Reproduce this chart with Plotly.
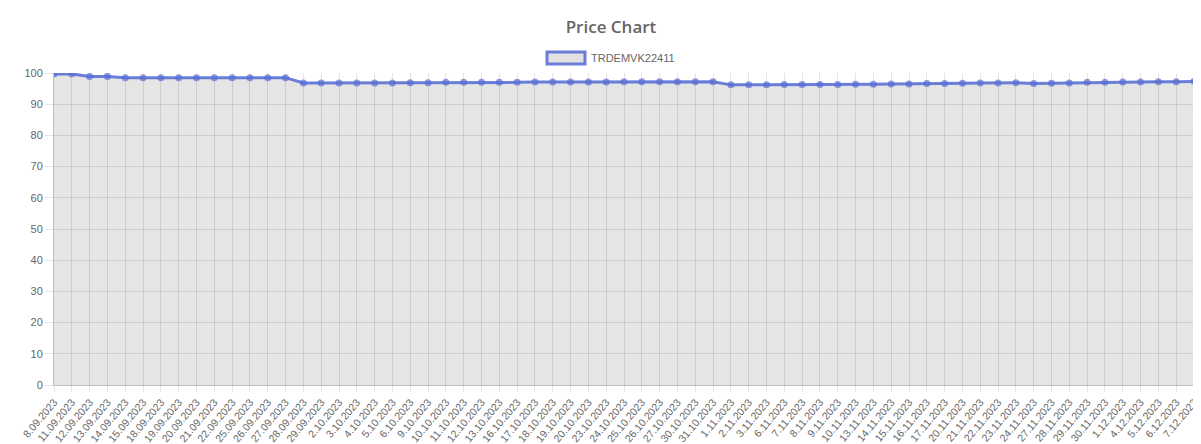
import plotly.graph_objects as go

W, H = 1201, 444
OFF = 8  # page body margin shifts the figure by 8px right/down

# trading days shown on the x axis
dates = [
    "8.09.2023", "11.09.2023", "12.09.2023", "13.09.2023", "14.09.2023", "15.09.2023",
    "18.09.2023", "19.09.2023", "20.09.2023", "21.09.2023", "22.09.2023", "25.09.2023",
    "26.09.2023", "27.09.2023", "28.09.2023", "29.09.2023",
    "2.10.2023", "3.10.2023", "4.10.2023", "5.10.2023", "6.10.2023", "9.10.2023",
    "10.10.2023", "11.10.2023", "12.10.2023", "13.10.2023", "16.10.2023", "17.10.2023",
    "18.10.2023", "19.10.2023", "20.10.2023", "23.10.2023", "24.10.2023", "25.10.2023",
    "26.10.2023", "27.10.2023", "30.10.2023", "31.10.2023",
    "1.11.2023", "2.11.2023", "3.11.2023", "6.11.2023", "7.11.2023", "8.11.2023",
    "9.11.2023", "10.11.2023", "13.11.2023", "14.11.2023", "15.11.2023", "16.11.2023",
    "17.11.2023", "20.11.2023", "21.11.2023", "22.11.2023", "23.11.2023", "24.11.2023",
    "27.11.2023", "28.11.2023", "29.11.2023", "30.11.2023",
    "1.12.2023", "4.12.2023", "5.12.2023", "6.12.2023", "7.12.2023",
]

# prices
prices = [
    99.7, 99.7, 98.9, 98.9, 98.5, 98.5, 98.5, 98.5, 98.5, 98.5, 98.5, 98.5, 98.5, 98.5,
    96.8, 96.8,
    96.8, 96.8, 96.8, 96.8, 96.9, 96.9, 97.0, 97.0, 97.0, 97.0, 97.0, 97.1,
    97.1, 97.1, 97.1, 97.1, 97.2, 97.2, 97.2, 97.2, 97.2, 97.2,
    96.2, 96.2, 96.2, 96.3, 96.3, 96.3, 96.3, 96.4, 96.4, 96.5, 96.5, 96.6,
    96.6, 96.7, 96.8, 96.8, 96.9, 96.6, 96.7, 96.8, 97.0, 97.0,
    97.1, 97.1, 97.2, 97.2, 97.3,
]

series_name = "TRDEMVK22411"
y_ticks = list(range(0, 101, 10))

LINE = "rgba(82,104,212,0.85)"
GREY = "#666666"
GRID = "rgba(0,0,0,0.1)"
FONT = "Liberation Sans, Arial, sans-serif"

# plot box in screenshot pixels: x 54..1194, y 73..385
ML = 54 - OFF
MR = W - (1194 - OFF)
MT = 73 - OFF
MB = H - (385 - OFF)

fig = go.Figure()
fig.add_trace(go.Scatter(
    x=dates,
    y=prices,
    name=series_name,
    mode="lines+markers",
    line=dict(color=LINE, width=3),
    marker=dict(size=7, color="rgba(90,110,210,0.7)", line=dict(width=0)),
    fill="tozeroy",
    fillcolor="rgba(0,0,0,0.1)",
    showlegend=False,
    hovertemplate="%{x}<br>%{y}<extra></extra>",
))

pw = W - ML - MR
ph = H - MT - MB


def px_x(p):
    return (p - OFF - ML) / pw


def px_y(p):
    return (H - MB - (p - OFF)) / ph


# chart.js style legend box (the real chart is wider than the crop,
# so title and legend sit right of the picture's middle)
shapes = [
    dict(type="rect", xref="paper", yref="paper",
         x0=px_x(547), x1=px_x(585), y0=px_y(64), y1=px_y(52),
         line=dict(color="rgba(82,104,212,0.85)", width=3),
         fillcolor="#e2e2e2"),
]

fig.update_layout(
    width=W,
    height=H,
    margin=dict(l=ML, r=MR, t=MT, b=MB, autoexpand=False),
    paper_bgcolor="white",
    plot_bgcolor="white",
    font=dict(family=FONT, size=11, color=GREY),
    title=dict(
        text="Price Chart",
        x=(611 - OFF) / W, xref="container", xanchor="center",
        y=1 - (27 - OFF) / H, yref="container", yanchor="middle",
        font=dict(family="Open Sans, sans-serif", size=17, color=GREY, weight=600),
        automargin=False,
    ),
    shapes=shapes,
    annotations=[dict(
        xref="paper", yref="paper", x=px_x(589), y=px_y(58),
        xanchor="left", yanchor="middle", showarrow=False,
        text=series_name, font=dict(family=FONT, size=11, color=GREY),
    )],
    hovermode="closest",
)

fig.update_xaxes(
    type="category",
    range=[0, len(dates) - 1],
    tickmode="array",
    tickvals=dates,
    ticktext=dates,
    tickangle=-50,
    tickfont=dict(size=10.5, color=GREY),
    showgrid=True,
    gridcolor=GRID,
    gridwidth=1,
    ticks="outside",
    ticklen=6,
    tickcolor=GRID,
    showline=True,
    linecolor="rgba(0,0,0,0.25)",
    linewidth=1,
    zeroline=False,
    automargin=False,
    fixedrange=True,
)

fig.update_yaxes(
    range=[0, 100],
    tickvals=y_ticks,
    tickfont=dict(size=11, color=GREY),
    showgrid=True,
    gridcolor=GRID,
    gridwidth=1,
    ticks="outside",
    ticklen=8,
    tickcolor=GRID,
    showline=True,
    linecolor="rgba(0,0,0,0.25)",
    linewidth=1,
    zeroline=False,
    automargin=False,
    fixedrange=True,
)

fig.write_html("out.html")
